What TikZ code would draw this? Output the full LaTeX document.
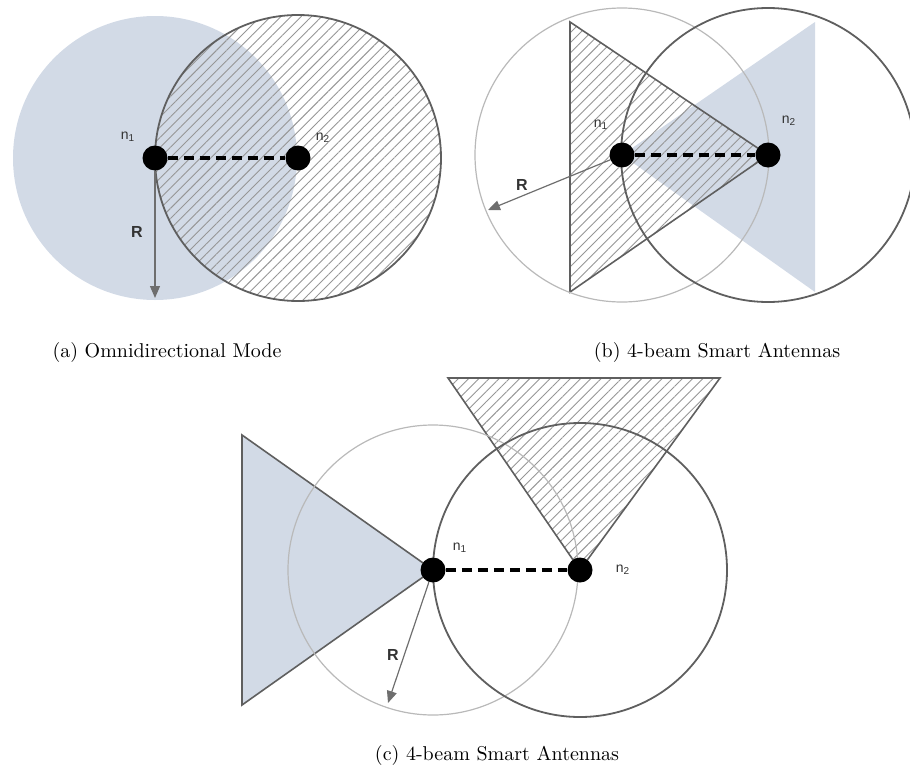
\documentclass[tikz,border=0pt]{standalone}
\usepackage{fontspec}
\setsansfont{Liberation Sans}
\usetikzlibrary{patterns.meta,arrows.meta}
\definecolor{beam}{RGB}{210,218,230}
\definecolor{hatchc}{RGB}{150,150,150}
\definecolor{ringdark}{RGB}{95,95,95}
\definecolor{ringlight}{RGB}{185,185,185}
\definecolor{arrowc}{RGB}{110,110,110}
\begin{document}
\begin{tikzpicture}[x=0.5pt,y=-0.5pt,
  dot/.style={circle,fill=black,inner sep=0pt,minimum size=12.5pt},
  link/.style={black,line width=2pt,dash pattern=on 5pt off 3pt},
  hatchfill/.style={pattern={Lines[angle=45,distance=3.6pt,line width=0.45pt]},pattern color=hatchc},
  beamfill/.style={fill=beam},
  lightring/.style={draw=ringlight,line width=0.6pt},
  darkring/.style={draw=ringdark,line width=0.9pt},
  edge/.style={draw=ringdark,line width=0.8pt},
  radius arrow/.style={draw=arrowc,line width=0.6pt,-{Triangle[length=6pt,width=5pt]}},
  nlabel/.style={font=\sffamily\fontsize{7}{8}\selectfont,text=black!80},
  rlabel/.style={font=\sffamily\bfseries\fontsize{8}{9}\selectfont,text=black!80},
  caption/.style={font=\fontsize{10}{12}\selectfont}]
\useasboundingbox (0,0) rectangle (910,776);

% ---------- (a) ----------
\coordinate (pa1) at (155,158);
\coordinate (pa2) at (298,158);
\coordinate (ra) at (155,298);
\fill[beamfill] (pa1) circle [radius=142];
\path[hatchfill] (pa2) circle [radius=143];
\draw[darkring] (pa2) circle [radius=143];
\node[dot] (a1) at (pa1) {};
\node[dot] (a2) at (pa2) {};
\draw[link] (a1) -- (a2);
\draw[radius arrow] (a1) -- (ra);
\node[nlabel] (la1) at (128,137) {n\textsubscript{1}};
\node[nlabel] (la2) at (323,138) {n\textsubscript{2}};
\node[rlabel] (lra) at (137,232) {R};
\node[caption] (capa) at (167,352) {(a) Omnidirectional Mode};

% ---------- (b) ----------
\coordinate (pb1) at (622,155);
\coordinate (pb2) at (768,155);
\coordinate (rb) at (488,210);
\fill[beamfill] (815,22) -- (815,292) -- (pb1) -- cycle;
\path[hatchfill] (570,22) -- (570,292) -- (pb2) -- cycle;
\draw[edge] (570,22) -- (570,292) -- (pb2) -- cycle;
\draw[lightring] (pb1) circle [radius=147];
\draw[darkring] (pb2) circle [radius=147];
\node[dot] (b1) at (pb1) {};
\node[dot] (b2) at (pb2) {};
\draw[link] (b1) -- (b2);
\draw[radius arrow] (b1) -- (rb);
\node[nlabel] (lb1) at (601,125) {n\textsubscript{1}};
\node[nlabel] (lb2) at (789,121) {n\textsubscript{2}};
\node[rlabel] (lrb) at (522,185) {R};
\node[caption] (capb) at (717,352) {(b) 4-beam Smart Antennas};

% ---------- (c) ----------
\coordinate (pc1) at (433,570);
\coordinate (pc2) at (580,570);
\coordinate (rc) at (388,703);
\fill[beamfill] (242,435) -- (242,705) -- (pc1) -- cycle;
\draw[edge] (242,435) -- (242,705) -- (pc1) -- cycle;
\path[hatchfill] (448,378) -- (720,378) -- (pc2) -- cycle;
\draw[edge] (448,378) -- (720,378) -- (pc2) -- cycle;
\draw[lightring] (pc1) circle [radius=145];
\draw[darkring] (pc2) circle [radius=147];
\node[dot] (c1) at (pc1) {};
\node[dot] (c2) at (pc2) {};
\draw[link] (c1) -- (c2);
\draw[radius arrow] (c1) -- (rc);
\node[nlabel] (lc1) at (460,548) {n\textsubscript{1}};
\node[nlabel] (lc2) at (623,570) {n\textsubscript{2}};
\node[rlabel] (lrc) at (393,655) {R};
\node[caption] (capc) at (497,755) {(c) 4-beam Smart Antennas};
\end{tikzpicture}
\end{document}
